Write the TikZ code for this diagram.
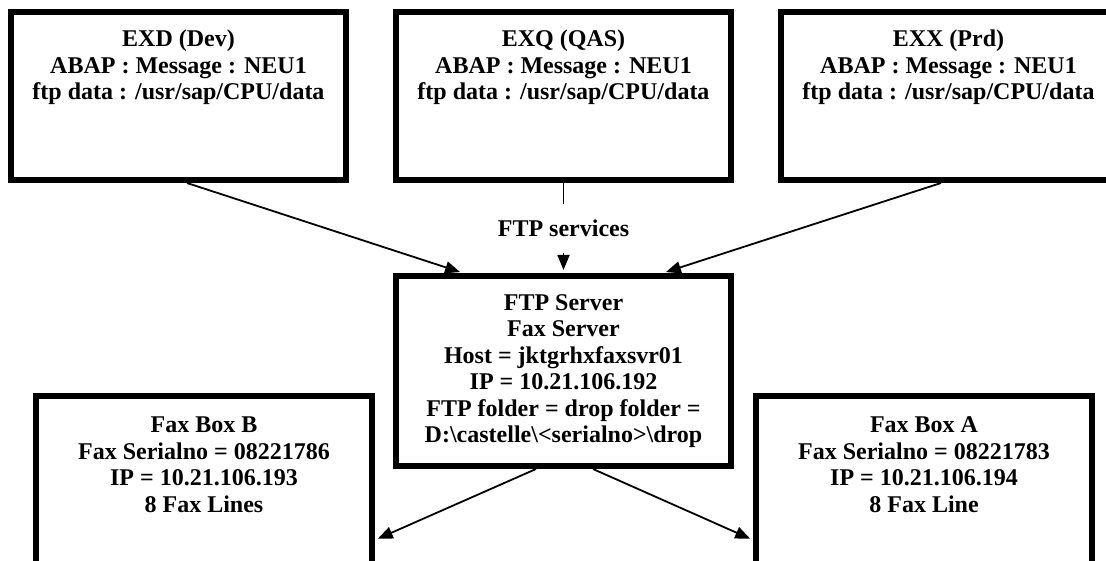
\documentclass[tikz,border=0pt]{standalone}
\usepackage{fontspec}
\setmainfont{Liberation Serif}
\usetikzlibrary{arrows.meta}
\begin{document}
\begin{tikzpicture}[x=1pt,y=-1pt,
    hostbox/.style={draw, line width=6pt, minimum width=335pt, minimum height=168pt, inner sep=0pt},
    boxfont/.style={align=center, font=\fontsize{24}{26.5}\selectfont\bfseries},
    boxtext/.style={boxfont, anchor=base, inner sep=0pt},
    link/.style={line width=1.8pt, -{Triangle[length=15pt,width=12pt]}, shorten >=3pt}]

        \useasboundingbox (0,0) rectangle (1106,561);
        \clip (0,0) rectangle (1106,561);

        % SAP systems
        \node[hostbox] (exd) at (178.5,96) {};
        \node[hostbox] (exq) at (563.5,96) {};
        \node[hostbox] (exx) at (948.5,96) {};
        \node[boxtext] (exdtext) at (178.5,100) {EXD (Dev)\\ABAP : Message : NEU1\\ftp data : /usr/sap/CPU/data};
        \node[boxtext] (exqtext) at (563.5,100) {EXQ (QAS)\\ABAP : Message : NEU1\\ftp data : /usr/sap/CPU/data};
        \node[boxtext] (exxtext) at (948.5,100) {EXX (Prd)\\ABAP : Message : NEU1\\ftp data : /usr/sap/CPU/data};

        % server
        \node[hostbox, boxfont, minimum height=190pt] (ftp) at (563.5,371)
            {FTP Server\\Fax Server\\Host = jktgrhxfaxsvr01\\IP = 10.21.106.192\\FTP folder = drop folder =\\D:\textbackslash castelle\textbackslash{}<serialno>\textbackslash drop};

        % fax boxes
        \node[hostbox, minimum width=336pt, minimum height=171pt] (faxb) at (204,481.5) {};
        \node[hostbox, minimum width=336pt, minimum height=171pt] (faxa) at (924,481.5) {};
        \node[boxtext] (faxbtext) at (204,512) {Fax Box B\\Fax Serialno = 08221786\\IP = 10.21.106.193\\8 Fax Lines};
        \node[boxtext] (faxatext) at (924,512) {Fax Box A\\Fax Serialno = 08221783\\IP = 10.21.106.194\\8 Fax Line};

        \node[boxfont, text height=17pt, text depth=0pt, inner xsep=4pt, inner ysep=16pt] (svc) at (563.5,228.5) {FTP services};

        \draw[line width=1.8pt] (exq.south) -- (svc.north);
        \draw[link] (svc.south) -- (ftp.north);
        \draw[link] ([xshift=8.5pt]exd.south) -- ([xshift=-100.5pt]ftp.north);
        \draw[link] ([xshift=-7.5pt]exx.south) -- ([xshift=99.5pt]ftp.north);

        \draw[link] ([xshift=-27.5pt]ftp.south) -- ([yshift=-58.5pt]faxb.east);
        \draw[link] ([xshift=29.5pt]ftp.south) -- ([yshift=-58.5pt]faxa.west);

      \end{tikzpicture}
\end{document}
